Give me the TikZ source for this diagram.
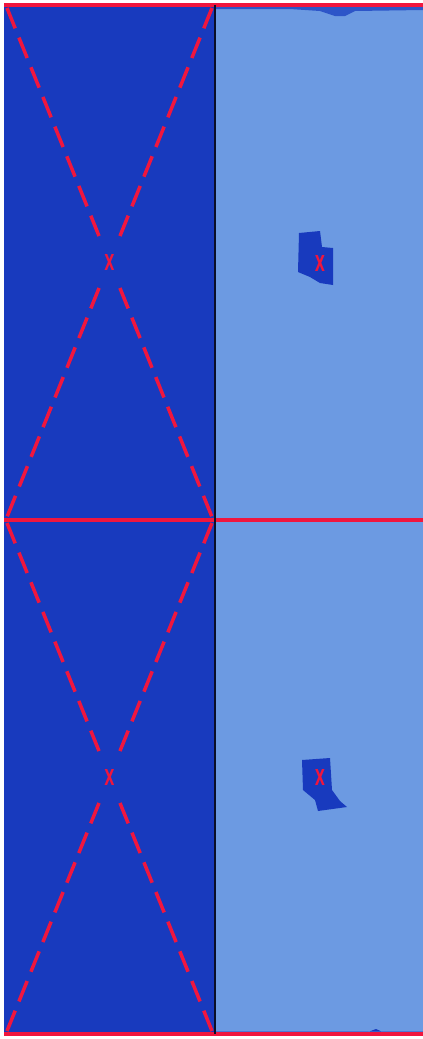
\documentclass[tikz,border=0pt]{standalone}
\usepackage{fontspec}
\setmainfont{DejaVu Sans}
\usetikzlibrary{calc}
\definecolor{darkpanel}{RGB}{24,58,190}
\definecolor{bandblue}{RGB}{45,85,200}
\definecolor{lightpanel}{RGB}{108,154,226}
\definecolor{markred}{RGB}{240,22,62}
\definecolor{divider}{RGB}{10,14,40}
\tikzset{
  diag/.style={markred, line width=3.5pt, dash pattern=on 22pt off 10pt},
  edge/.style={markred, line width=3.5pt},
  blob/.style={fill=darkpanel, draw=none},
  xmark/.style={text=markred, font=\bfseries\fontsize{22}{22}\selectfont, inner sep=0pt}
}
\newcommand{\tallx}{\scalebox{0.6}[1]{X}}
\begin{document}
\begin{tikzpicture}[x=1pt,y=-1pt]
\useasboundingbox (0,0) rectangle (423,1039);
\fill[white] (0,0) rectangle (423,1039);
% panels
\fill[darkpanel] (4,5) rectangle (215,1034);
\fill[lightpanel] (215,5) rectangle (423,1034);
% dark bands in right panel
\fill[bandblue] (216,6) -- (423,6) -- (423,10) -- (355,11) -- (345,16) -- (335,16) -- (320,11) -- (290,9) -- (216,9) -- cycle;
\fill[darkpanel] (216,517.5) -- (423,517.5) -- (423,520) -- (216,520) -- cycle;
\fill[darkpanel] (216,1031.5) -- (423,1031.5) -- (423,1033) -- (385,1033) -- (376,1029) -- (368,1032) -- (216,1032) -- cycle;
% coordinates
\coordinate (tl1) at (7,8);
\coordinate (tr1) at (212,8);
\coordinate (bl1) at (7,517);
\coordinate (br1) at (212,517);
\coordinate (tl2) at (7,523);
\coordinate (tr2) at (212,523);
\coordinate (bl2) at (7,1031);
\coordinate (br2) at (212,1031);
% centre marks left
\node[xmark] (c1) at (109.5,262) {\tallx};
\node[xmark] (c2) at (109.5,777) {\tallx};
% diagonals, dashed outward from the centre marks
\foreach \c/\a/\b/\d/\e in {c1/tl1/br1/tr1/bl1, c2/tl2/br2/tr2/bl2}{
  \draw[diag] ($(\c)!28pt!(\a)$) -- (\a);
  \draw[diag] ($(\c)!28pt!(\b)$) -- (\b);
  \draw[diag] ($(\c)!28pt!(\d)$) -- (\d);
  \draw[diag] ($(\c)!28pt!(\e)$) -- (\e);
}
% blobs right
\fill[blob] (299,233) -- (320,231) -- (322,247) -- (333,248) -- (333,285) -- (320,283) -- (310,277) -- (298,272) -- cycle;
\fill[blob] (302,760) -- (330,758) -- (332,790) -- (340,801) -- (347,807) -- (318,811) -- (315,800) -- (303,790) -- cycle;
\node[xmark] (r1) at (320,263) {\tallx};
\node[xmark] (r2) at (320,777) {\tallx};
% horizontal red edges
\draw[edge] (4,5) -- (423,5);
\draw[edge] (4,520) -- (423,520);
\draw[edge] (4,1034) -- (423,1034);
% divider
\draw[divider, line width=2.5pt] (215,5) -- (215,1034);
\end{tikzpicture}
\end{document}
